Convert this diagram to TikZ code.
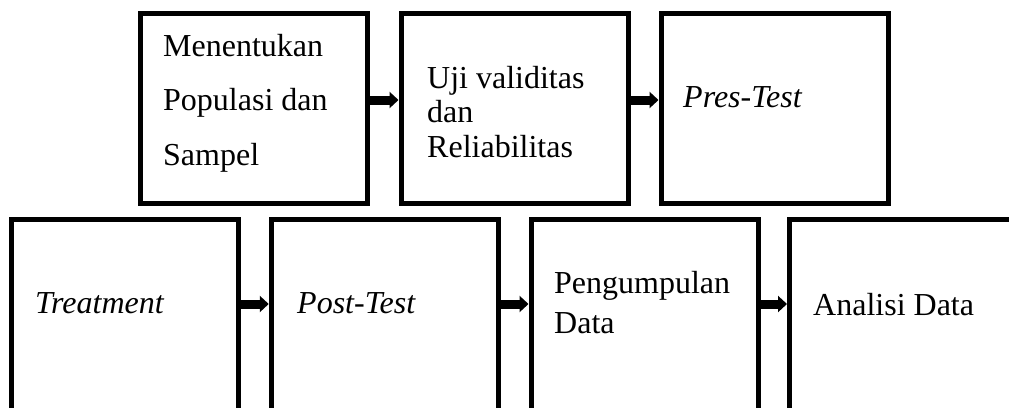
\documentclass[tikz,border=0pt]{standalone}
\usepackage{fontspec}
\setmainfont{Liberation Serif}
\usetikzlibrary{arrows.meta}

\tikzset{
  stage/.style={draw, line width=5pt, minimum width=227pt, inner sep=0pt},
  stagetext/.style={anchor=base west, align=left, inner sep=0pt, font=\fontsize{32}{34.5}\selectfont},
  flow/.style={line width=9pt, -{Triangle[length=9pt,width=16pt]}}
}

\begin{document}
\begin{tikzpicture}[x=1pt,y=-1pt]
  \clip (0,0) rectangle (1009,407);
  % top row
  \node[stage, minimum height=190pt] (s1) at (254,108.5) {};
  \node[stage, minimum height=190pt] (s2) at (514.5,108.5) {};
  \node[stage, minimum height=190pt] (s3) at (774.5,108.5) {};
  % base of a multi-line node = last line
  \node[stagetext, font=\fontsize{32}{54.5}\selectfont] (t1) at (163,165) {Menentukan\\Populasi dan\\Sampel};
  \node[stagetext] (t2) at (427,157) {Uji validitas\\dan\\Reliabilitas};
  \node[stagetext] (t3) at (683,107) {\textit{Pres-Test}};
  \draw[flow] ([yshift=8.5pt]s1.east) -- ([yshift=8.5pt]s2.west);
  \draw[flow] ([yshift=8.5pt]s2.east) -- ([yshift=8.5pt]s3.west);

  % bottom row, runs off the page
  \node[stage, minimum height=200pt] (s4) at (125,319.5) {};
  \node[stage, minimum height=200pt] (s5) at (384.75,319.5) {};
  \node[stage, minimum height=200pt] (s6) at (644.5,319.5) {};
  \node[stage, minimum height=200pt] (s7) at (903,319.5) {};
  \node[stagetext] (t4) at (35,313) {\textit{Treatment}};
  \node[stagetext] (t5) at (297,313) {\textit{Post-Test}};
  \node[stagetext, font=\fontsize{32}{40}\selectfont] (t6) at (554,333) {Pengumpulan\\Data};
  \node[stagetext] (t7) at (813,315) {Analisi Data};
  \draw[flow] ([yshift=15.5pt]s4.east) -- ([yshift=15.5pt]s5.west);
  \draw[flow] ([yshift=15.5pt]s5.east) -- ([yshift=15.5pt]s6.west);
  \draw[flow] ([yshift=15.5pt]s6.east) -- ([yshift=15.5pt]s7.west);
\end{tikzpicture}
\end{document}
